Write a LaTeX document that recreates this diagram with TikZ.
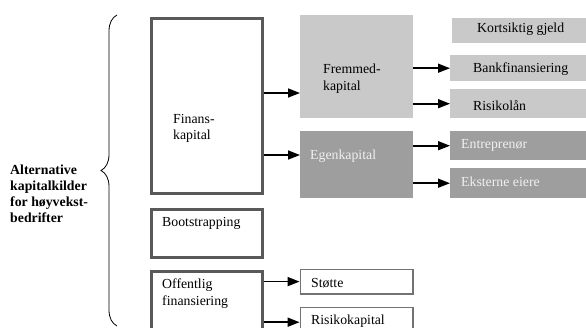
\documentclass[tikz,border=0pt]{standalone}
\usepackage{fontspec}
\setmainfont{Liberation Serif}
\usetikzlibrary{positioning, arrows.meta, decorations.pathreplacing}

\begin{document}
\begin{tikzpicture}[x=1pt, y=-1pt,
    mainbox/.style={rectangle, draw=black!65, line width=3pt, fill=white,
      anchor=north west, inner sep=0pt},
    lightbox/.style={rectangle, fill=black!21, anchor=north west, inner sep=0pt},
    darkbox/.style={rectangle, fill=black!38, anchor=north west, inner sep=0pt},
    thinbox/.style={rectangle, draw=black!55, line width=1.2pt, fill=white,
      anchor=north west, inner sep=0pt},
    boxtext/.style={anchor=west, align=left, inner sep=0pt,
      font=\fontsize{13.8}{16.5}\selectfont},
    arr/.style={-{Triangle[length=12pt,width=9pt]}, line width=1.6pt},
  ]
  \useasboundingbox (0,0) rectangle (586,327);
  % Boxes
  \node[mainbox, minimum width=111pt, minimum height=175pt] (finans) at (149.5,16.5) {};
  \node[mainbox, minimum width=111pt, minimum height=48pt] (bootstrap) at (149.5,207.5) {};
  \node[mainbox, minimum width=111pt, minimum height=70pt] (offentlig) at (149.5,269.5) {};
  \node[lightbox, minimum width=113pt, minimum height=103pt] (fremmed) at (300,15) {};
  \node[darkbox, minimum width=113pt, minimum height=67pt] (egen) at (300,131) {};
  \node[lightbox, minimum width=140pt, minimum height=25pt] (kortsiktig) at (452,18) {};
  \node[lightbox, minimum width=140pt, minimum height=26pt] (bank) at (450,55) {};
  \node[lightbox, minimum width=140pt, minimum height=29pt] (risikolan) at (450,89) {};
  \node[darkbox, minimum width=140pt, minimum height=29pt] (entreprenor) at (450,131) {};
  \node[darkbox, minimum width=140pt, minimum height=30pt] (eksterne) at (450,168) {};
  \node[thinbox, minimum width=112.8pt, minimum height=24.8pt] (stotte) at (299.6,268.6) {};
  \node[thinbox, minimum width=112.8pt, minimum height=30pt] (risikokap) at (299.6,306.6) {};
  % Texts
  \node[boxtext, font=\bfseries\fontsize{13.8}{16}\selectfont] (title) at (10,194)
    {Alternative\\kapitalkilder\\for høyvekst-\\bedrifter};
  \node[boxtext] (finans_t) at (173,128.5) {Finans-\\kapital};
  \node[boxtext] (bootstrap_t) at (162,223) {Bootstrapping};
  \node[boxtext] (offentlig_t) at (162,293.5) {Offentlig\\finansiering};
  \node[boxtext] (fremmed_t) at (323,78.5) {Fremmed-\\kapital};
  \node[boxtext, text=white!94!black] (egen_t) at (310,156) {Egenkapital};
  \node[boxtext] (kortsiktig_t) at (477,29) {Kortsiktig gjeld};
  \node[boxtext] (bank_t) at (473,69) {Bankfinansiering};
  \node[boxtext] (risikolan_t) at (473,106) {Risikolån};
  \node[boxtext, text=white!94!black] (entreprenor_t) at (461,145) {Entreprenør};
  \node[boxtext, text=white!94!black] (eksterne_t) at (461,182) {Eksterne eiere};
  \node[boxtext] (stotte_t) at (311,283) {Støtte};
  \node[boxtext] (risikokap_t) at (311,321) {Risikokapital};
  % Brace
  \coordinate (brace_top) at (117,15);
  \coordinate (brace_bot) at (117,326);
  \draw[decorate, decoration={brace, amplitude=16pt}, line width=0.8pt]
    (brace_bot) -- (brace_top);
  % Lines
  \coordinate (y_fremmed) at (0,93);
  \coordinate (y_egen) at (0,155);
  \draw[arr] (finans.east |- y_fremmed) -- (fremmed.west |- y_fremmed);
  \draw[arr] (finans.east |- y_egen) -- (egen.west |- y_egen);
  \draw[arr] (fremmed.east |- bank.west) -- (bank.west);
  \draw[arr] (fremmed.east |- risikolan.west) -- (risikolan.west);
  \draw[arr] (egen.east |- entreprenor.west) -- (entreprenor.west);
  \draw[arr] (egen.east |- eksterne.west) -- (eksterne.west);
  \draw[arr] (offentlig.east |- stotte.west) -- (stotte.west);
  \draw[arr] (offentlig.east |- risikokap.west) -- (risikokap.west);
\end{tikzpicture}
\end{document}
